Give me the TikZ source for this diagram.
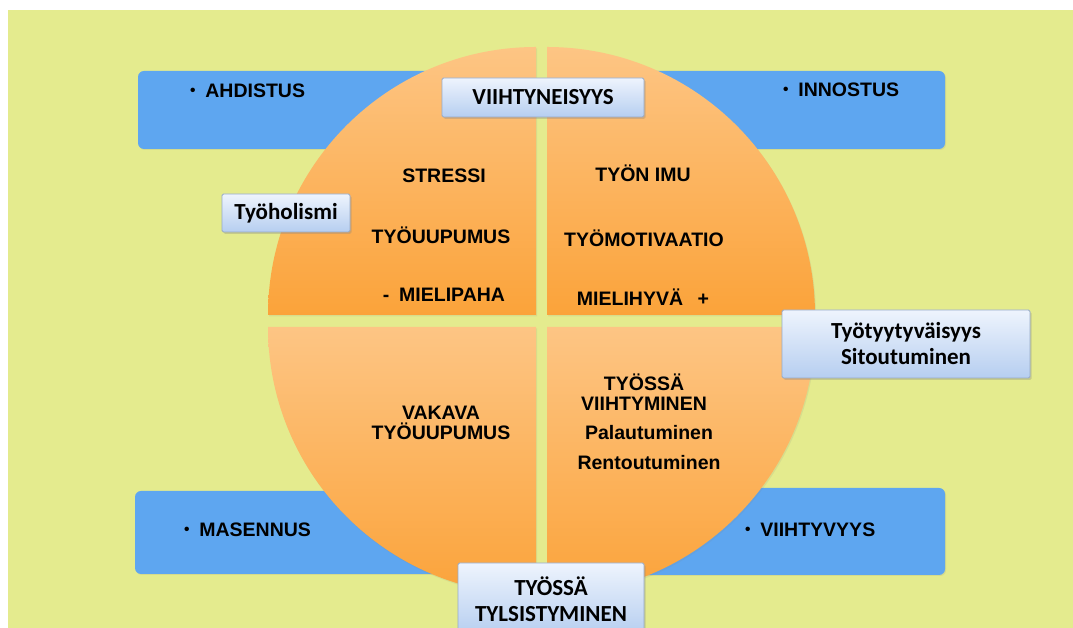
\documentclass[tikz,border=0pt]{standalone}
\usepackage{fontspec}
\setmainfont{Liberation Sans}
\newfontfamily\tagfont{Carlito}
\usetikzlibrary{shadows}

\definecolor{bgyellow}{RGB}{228,235,142}
\definecolor{moodblue}{RGB}{94,166,240}
\definecolor{orTop}{RGB}{253,197,132}
\definecolor{orBot}{RGB}{251,163,58}
\definecolor{tagtop}{RGB}{238,244,253}
\definecolor{tagbot}{RGB}{182,206,240}
\definecolor{tagedge}{RGB}{150,170,200}

% small bullet in front of the mood words
\newcommand{\moodbullet}{\raisebox{2.2pt}{\fontsize{15.5}{15.5}\selectfont\textbullet}\hspace{0.5em}}

\begin{document}
\begin{tikzpicture}[x=1pt, y=1pt,
    mood/.style={rectangle, rounded corners=6pt, fill=moodblue, draw=none, inner sep=0pt,
                 drop shadow={opacity=0.15, shadow xshift=1pt, shadow yshift=-1pt}},
    quad/.style={top color=orTop, bottom color=orBot, draw=none,
                 drop shadow={opacity=0.12, shadow xshift=1pt, shadow yshift=-1.5pt}},
    word/.style={font=\fontsize{19.5}{20}\selectfont\bfseries, align=center, inner sep=0pt},
    tag/.style={rectangle, rounded corners=1.5pt, draw=tagedge, line width=0.8pt,
                top color=tagtop, bottom color=tagbot, align=center, inner sep=0pt,
                font=\tagfont\fontsize{23}{26}\selectfont\bfseries,
                drop shadow={opacity=0.3, shadow xshift=1.5pt, shadow yshift=-2pt}}
]
    \useasboundingbox (0,0) rectangle (1073,628);
    \fill[bgyellow] (8,0) rectangle (1073,618);

    % Blue mood boxes behind the circle
    \node[mood, minimum width=352pt, minimum height=78pt] (bTL) at (314,518) {};
    \node[mood, minimum width=355pt, minimum height=78pt] (bTR) at (767.5,518) {};
    \node[mood, minimum width=365pt, minimum height=83pt] (bBL) at (317.5,95.5) {};
    \node[mood, minimum width=355pt, minimum height=87pt] (bBR) at (767.5,96.5) {};

    % Four quadrants of the circle
    \path[quad] (536,313) -- (268,313) arc[start angle=180, end angle=90, radius=268pt] -- cycle;
    \path[quad] (547,313) -- (547,581) arc[start angle=90, end angle=0, radius=268pt] -- cycle;
    \path[quad] (536,301) -- (268,301) arc[start angle=180, end angle=270, radius=268pt] -- cycle;
    \path[quad] (547,301) -- (815,301) arc[start angle=0, end angle=-90, radius=268pt] -- cycle;

    % Mood words in the blue boxes
    \node[word, anchor=west] (ahd) at (190,537) {\moodbullet AHDISTUS};
    \node[word, anchor=west] (inn) at (783,538) {\moodbullet INNOSTUS};
    \node[word, anchor=west] (mas) at (184,98) {\moodbullet MASENNUS};
    \node[word, anchor=west] (vvy) at (745,98) {\moodbullet VIIHTYVYYS};

    % Top left quadrant
    \node[word] (stress) at (444,452) {STRESSI};
    \node[word] (uup) at (441,393) {TYÖUUPUMUS};
    \node[word] (paha) at (444,333) {-\hspace{0.5em}MIELIPAHA};

    % Top right quadrant
    \node[word] (imu) at (643,455) {TYÖN IMU};
    \node[word] (motiv) at (644,390) {TYÖMOTIVAATIO};
    \node[word] (hyva) at (643,331) {MIELIHYVÄ\hspace{0.75em}+};

    % Bottom quadrants
    \node[word] (vakava) at (441,205.5) {VAKAVA\\TYÖUUPUMUS};
    \node[word] (viihtym) at (644,236) {TYÖSSÄ\\VIIHTYMINEN};
    \node[word] (palaut) at (649,195) {Palautuminen};
    \node[word] (rentout) at (649,165) {Rentoutuminen};

    % Tag boxes on top
    \node[tag, minimum width=202pt, minimum height=39pt] (viihtyn) at (543,530.5) {VIIHTYNEISYYS};
    \node[tag, minimum width=128pt, minimum height=38pt] (holismi) at (286,415) {Työholismi};
    \node[tag, minimum width=248pt, minimum height=68pt] (tyyt) at (906,284) {Työtyytyväisyys\\Sitoutuminen};
    \node[tag, minimum width=186pt, minimum height=72pt] (tylsis) at (551,29)
        {\fontsize{23}{25}\selectfont TYÖSSÄ\\TYLSISTYMINEN};
\end{tikzpicture}
\end{document}
